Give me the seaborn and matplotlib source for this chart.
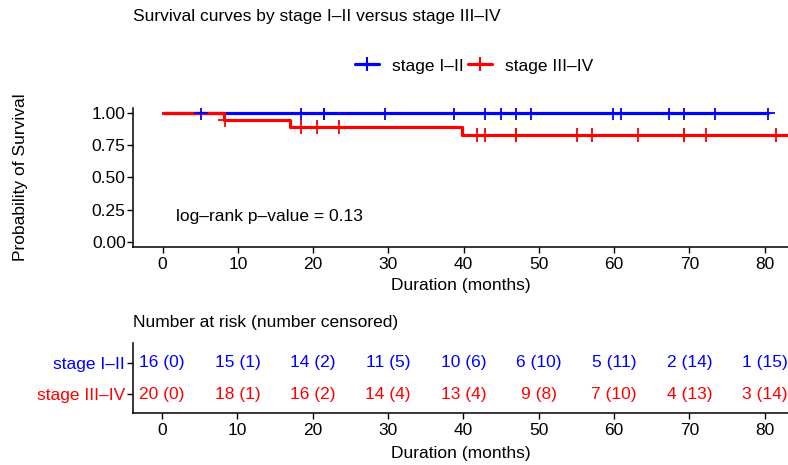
import numpy as np
import pandas as pd
import matplotlib
matplotlib.use("Agg")
import matplotlib.pyplot as plt
import seaborn as sns
from matplotlib.lines import Line2D

# ---------------- data ----------------
groups = ["stage I–II", "stage III–IV"]
group_colors = ["#0000FF", "#FF0000"]
event_times_I_II = []
censor_times_I_II = [5.1, 18.4, 21.4, 21.4, 29.6, 38.7, 42.9, 44.9, 46.9,
                     48.9, 59.9, 60.9, 67.3, 69.3, 73.4, 80.5]
event_times_III_IV = [8.2, 16.9, 39.8]
censor_times_III_IV = [8.3, 18.4, 20.5, 23.4, 41.8, 42.8, 46.9, 46.9, 55.0,
                       57.0, 63.2, 69.3, 69.3, 72.2, 81.5, 84.0, 86.0]
risk_times = [0, 10, 20, 30, 40, 50, 60, 70, 80]
y_ticks = [0.00, 0.25, 0.50, 0.75, 1.00]
title_text = "Survival curves by stage I–II versus stage III–IV"
table_title = "Number at risk (number censored)"
pvalue_text = "log–rank p–value = 0.13"
x_label = "Duration (months)"
y_label = "Probability of Survival"

events = {groups[0]: event_times_I_II, groups[1]: event_times_III_IV}
censors = {groups[0]: censor_times_I_II, groups[1]: censor_times_III_IV}


def km_curve(ev, ce):
    ev = np.array(ev, float)
    ce = np.array(ce, float)
    alltimes = np.concatenate([ev, ce])
    ts, ss = [0.0], [1.0]
    s = 1.0
    for t in np.unique(ev):
        at_risk = np.sum(alltimes >= t)
        d = np.sum(ev == t)
        s *= (at_risk - d) / at_risk
        ts.append(t)
        ss.append(s)
    ts.append(alltimes.max())
    ss.append(s)
    return np.array(ts), np.array(ss)


def surv_at(ts, ss, t):
    idx = np.searchsorted(ts, t, side="right") - 1
    return ss[idx]


curve_rows, cens_rows = [], []
for g in groups:
    ts, ss = km_curve(events[g], censors[g])
    for t, s in zip(ts, ss):
        curve_rows.append({"time": t, "surv": s, "group": g})
    for t in censors[g]:
        cens_rows.append({"time": t, "surv": surv_at(ts, ss, t), "group": g})
curve_df = pd.DataFrame(curve_rows)
cens_df = pd.DataFrame(cens_rows)

# ---------------- style ----------------
sns.set_theme(style="ticks")
plt.rcParams["font.family"] = ["Liberation Sans", "DejaVu Sans"]
plt.rcParams["axes.linewidth"] = 1.1
plt.rcParams["text.color"] = "black"
plt.rcParams["axes.labelcolor"] = "black"
plt.rcParams["axes.edgecolor"] = "black"
plt.rcParams["xtick.color"] = "black"
plt.rcParams["ytick.color"] = "black"
FS = 12.5
palette = dict(zip(groups, group_colors))

fig = plt.figure(figsize=(7.88, 4.65), dpi=100)
ax = fig.add_axes([0.1692, 0.4695, 0.8308, 0.2976])
ax2 = fig.add_axes([0.1684, 0.1112, 0.8316, 0.1505])

sns.lineplot(data=curve_df, x="time", y="surv", hue="group", palette=palette,
             drawstyle="steps-post", estimator=None, sort=False, lw=2.3,
             legend=False, ax=ax)
sns.scatterplot(data=cens_df, x="time", y="surv", hue="group", palette=palette,
                marker="+", s=100, linewidth=1.3, legend=False, ax=ax, zorder=5)

xlim = (-3.9, 83.1)
ax.set_xlim(*xlim)
ax.set_ylim(-0.04, 1.04)
ax.set_xticks(risk_times)
ax.set_yticks(y_ticks)
ax.set_yticklabels([f"{v:.2f}" for v in y_ticks])
ax.set_xlabel(x_label, fontsize=FS, color="black")
ax.set_ylabel(y_label, fontsize=FS, color="black")
ax.xaxis.label.set_va("center")
ax.yaxis.label.set_va("center")
ax.xaxis.set_label_coords(0.5, -0.284)
ax.yaxis.set_label_coords(-0.173, 0.5)
ax.tick_params(labelsize=FS, length=4.3, width=1.0, colors="black")
ax.tick_params(axis="y", pad=1.2)
ax.tick_params(axis="x", pad=3)
sns.despine(ax=ax)
ax.text(1.77, 0.195, pvalue_text, fontsize=FS, ha="left", va="center", color="black")

fig.text(133 / 788, 1 - 16 / 465, title_text, fontsize=FS, ha="left", va="center",
         color="black")

handles = [Line2D([0], [0], color=c, lw=2.3, marker="+", markersize=10, mew=1.5)
           for c in group_colors]
leg = fig.legend(handles, groups, loc="center", bbox_to_anchor=(474 / 788, 1 - 66 / 465),
                 ncol=2, frameon=False, fontsize=FS, handlelength=1.38,
                 columnspacing=0.25, handletextpad=0.75)
for t in leg.get_texts():
    t.set_color("black")

# ---------------- risk table ----------------
row_y = {groups[0]: 2, groups[1]: 1}
for g, c in zip(groups, group_colors):
    allt = np.concatenate([np.array(events[g], float), np.array(censors[g], float)])
    ce = np.array(censors[g], float)
    for t in risk_times:
        n = int(np.sum(allt >= t))
        nc = int(np.sum(ce < t))
        ax2.text(t, row_y[g], f"{n} ({nc})", color=c, fontsize=FS,
                 ha="center", va="center")
ax2.set_xlim(*xlim)
ax2.set_ylim(0.40, 2.62)
ax2.set_xticks(risk_times)
ax2.set_yticks([row_y[g] for g in groups])
ax2.set_yticklabels(groups)
ax2.tick_params(labelsize=FS, length=4.3, width=1.0, colors="black")
ax2.tick_params(axis="y", pad=1.2)
ax2.tick_params(axis="x", pad=3)
for lab, c in zip(ax2.get_yticklabels(), group_colors):
    lab.set_color(c)
ax2.set_xlabel(x_label, fontsize=FS, color="black")
ax2.xaxis.label.set_va("center")
ax2.xaxis.set_label_coords(0.5, -0.58)
ax2.set_ylabel("")
sns.despine(ax=ax2)
fig.text(133 / 788, 1 - 323 / 465, table_title, fontsize=FS, ha="left", va="center",
         color="black")

fig.savefig("out.png", dpi=100)
